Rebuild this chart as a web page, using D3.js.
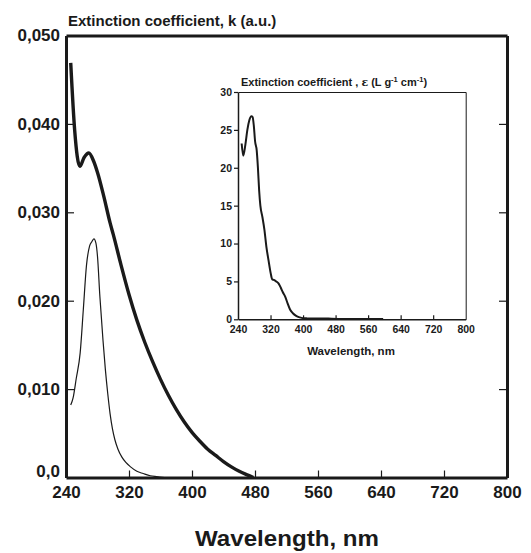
<!DOCTYPE html>
<html><head><meta charset="utf-8">
<script src="https://cdn.jsdelivr.net/npm/d3@7"></script>
<style>
body{margin:0;background:#fff}
text{font-family:"Liberation Sans",Arial,Helvetica,sans-serif;font-weight:bold;fill:#1a1a1a}
</style>
</head><body>
<svg id="chart" width="531" height="553"></svg>
<script>
// ---- main chart data: extinction coefficient k (a.u.) ----
const thickWl = [246, 251, 257.5, 263, 269, 275, 280, 288, 296, 300, 310, 320, 330, 340, 350, 360, 370, 380, 390, 400, 410, 420, 430, 440, 450, 460, 470, 478];
const thickK  = [0.0469, 0.0393, 0.0352, 0.0362, 0.0367, 0.0358, 0.0345, 0.0318, 0.0288, 0.0275, 0.0240, 0.0207, 0.0178, 0.0153, 0.0131, 0.0111, 0.0093, 0.0077, 0.0063, 0.0051, 0.0041, 0.0032, 0.0025, 0.0018, 0.0012, 0.0007, 0.0003, 0.0];

const thinWl = [246, 249, 253, 258, 262, 266, 270, 273, 275.5, 278, 280, 283, 287, 290, 293, 296, 299, 302, 306, 311, 316, 322, 330, 338, 347, 355, 365];
const thinK  = [0.0082, 0.0090, 0.0112, 0.0141, 0.0190, 0.0240, 0.0262, 0.0267, 0.0270, 0.0265, 0.0250, 0.0205, 0.0155, 0.0122, 0.0095, 0.0072, 0.0055, 0.0043, 0.0032, 0.0023, 0.0017, 0.0012, 0.0007, 0.00045, 0.0002, 0.0001, 0.0];

// ---- inset data: epsilon (L g^-1 cm^-1) ----
const insetWl  = [249, 253, 258, 263, 268, 273, 276, 279, 282, 286, 289, 292, 295, 300, 305, 310, 315, 320, 324, 328, 334, 340, 345, 350, 356, 362, 368, 375, 383, 392, 400, 410, 430, 450, 470, 500, 550, 597];
const insetEps = [23.2, 21.6, 23.0, 25.0, 26.3, 26.8, 26.7, 25.5, 23.5, 22.3, 20.0, 17.0, 15.0, 13.5, 11.8, 9.5, 7.8, 6.2, 5.3, 5.2, 5.0, 4.7, 4.2, 3.6, 3.0, 2.1, 1.3, 0.8, 0.45, 0.25, 0.15, 0.12, 0.10, 0.12, 0.08, 0.05, 0.05, 0.04];

// ---- ticks ----
const xTicks = [240, 320, 400, 480, 560, 640, 720, 800];
const yTicks = [0, 0.01, 0.02, 0.03, 0.04, 0.05];
const yTickLabels = ["0,0", "0,010", "0,020", "0,030", "0,040", "0,050"];
const insetYTicks = [0, 5, 10, 15, 20, 25, 30];

const svg = d3.select("#chart");

// ===== main plot =====
const x = d3.scaleLinear().domain([240, 800]).range([66, 507]);
const y = d3.scaleLinear().domain([0, 0.05]).range([477.5, 35.5]);

function styleAxis(g, w) {
  g.select(".domain").attr("stroke", "#1a1a1a").attr("stroke-width", w);
  g.selectAll(".tick line").attr("stroke", "#1a1a1a").attr("stroke-width", 1.2);
}

// bottom
const gx = svg.append("g").attr("transform", `translate(0,${y(0)})`)
  .call(d3.axisBottom(x).tickValues(xTicks).tickSizeInner(-7).tickSizeOuter(0).tickPadding(8).tickFormat(d3.format("d")));
styleAxis(gx, 3);
gx.selectAll("text").attr("font-size", 17).attr("fill", "#1a1a1a").attr("dy", "0.71em");
gx.selectAll(".tick").filter(d => d === 240 || d === 800).select("line").remove();

// left
const gy = svg.append("g").attr("transform", `translate(${x(240)},0)`)
  .call(d3.axisLeft(y).tickValues(yTicks).tickSizeInner(-8).tickSizeOuter(0).tickPadding(6).tickFormat((d, i) => yTickLabels[i]));
styleAxis(gy, 3);
gy.selectAll("text").attr("font-size", 17).attr("fill", "#1a1a1a");
gy.selectAll(".tick").filter(d => d === 0).select("text").attr("dy", "-0.05em");
gy.selectAll(".tick").filter(d => d === 0 || d === 0.05).select("line").remove();

// right
const gr = svg.append("g").attr("transform", `translate(${x(800)},0)`)
  .call(d3.axisRight(y).tickValues(yTicks).tickSizeInner(-8).tickSizeOuter(0).tickFormat(""));
styleAxis(gr, 3);
gr.selectAll(".tick").filter(d => d === 0 || d === 0.05).select("line").remove();

// top
const gt = svg.append("g").attr("transform", `translate(0,${y(0.05)})`)
  .call(d3.axisTop(x).tickValues([]).tickSizeOuter(0));
styleAxis(gt, 3);

// curves
const lineMain = (wl, v) => d3.line().x((d, i) => x(wl[i])).y((d, i) => y(v[i])).curve(d3.curveMonotoneX)(wl);
svg.append("path").attr("d", lineMain(thinWl, thinK)).attr("fill", "none").attr("stroke", "#1a1a1a").attr("stroke-width", 1.2);
svg.append("path").attr("d", lineMain(thickWl, thickK)).attr("fill", "none").attr("stroke", "#1a1a1a").attr("stroke-width", 3.4).attr("stroke-linejoin", "round");

// main title
svg.append("text").attr("x", 68).attr("y", 26).attr("font-size", 15).text("Extinction coefficient, k (a.u.)");
// x label
svg.append("text").attr("x", 287).attr("y", 546).attr("text-anchor", "middle").attr("font-size", 21.5)
  .attr("textLength", 184).attr("lengthAdjust", "spacingAndGlyphs").text("Wavelength, nm");

// ===== inset =====
const xi = d3.scaleLinear().domain([240, 800]).range([238, 465.7]);
const yi = d3.scaleLinear().domain([0, 30]).range([319.3, 92]);

const gix = svg.append("g").attr("transform", `translate(0,${yi(0)})`)
  .call(d3.axisBottom(xi).tickValues(xTicks).tickSizeInner(-4).tickSizeOuter(0).tickPadding(6).tickFormat(d3.format("d")));
styleAxis(gix, 1.5);
gix.selectAll("text").attr("font-size", 10.5).attr("fill", "#1a1a1a");
gix.selectAll(".tick").filter(d => d === 240 || d === 800).select("line").remove();

const giy = svg.append("g").attr("transform", `translate(${xi(240)},0)`)
  .call(d3.axisLeft(yi).tickValues(insetYTicks).tickSizeInner(4).tickSizeOuter(0).tickPadding(2).tickFormat(d3.format("d")));
styleAxis(giy, 1.5);
giy.selectAll("text").attr("font-size", 10.5).attr("fill", "#1a1a1a");

const gir = svg.append("g").attr("transform", `translate(${xi(800)},0)`)
  .call(d3.axisRight(yi).tickValues([]).tickSizeOuter(0));
styleAxis(gir, 1);
const git = svg.append("g").attr("transform", `translate(0,${yi(30)})`)
  .call(d3.axisTop(xi).tickValues([]).tickSizeOuter(0));
styleAxis(git, 1);

const lineInset = d3.line().x((d, i) => xi(insetWl[i])).y((d, i) => yi(insetEps[i])).curve(d3.curveMonotoneX);
svg.append("path").attr("d", lineInset(insetWl)).attr("fill", "none").attr("stroke", "#1a1a1a").attr("stroke-width", 2).attr("stroke-linejoin", "round");

// inset title
const it = svg.append("text").attr("x", 241).attr("y", 85.5).attr("font-size", 11);
it.append("tspan").text("Extinction coefficient , ");
it.append("tspan").text("ε").attr("font-family", "DejaVu Serif, serif");
it.append("tspan").text(" (L g");
it.append("tspan").text("-1").attr("font-size", 7.5).attr("dy", -4);
it.append("tspan").text(" cm").attr("dy", 4);
it.append("tspan").text("-1").attr("font-size", 7.5).attr("dy", -4);
it.append("tspan").text(")").attr("dy", 4);

// inset x label
svg.append("text").attr("x", 351).attr("y", 355).attr("text-anchor", "middle").attr("font-size", 11.5).text("Wavelength, nm");
</script>
</body></html>
